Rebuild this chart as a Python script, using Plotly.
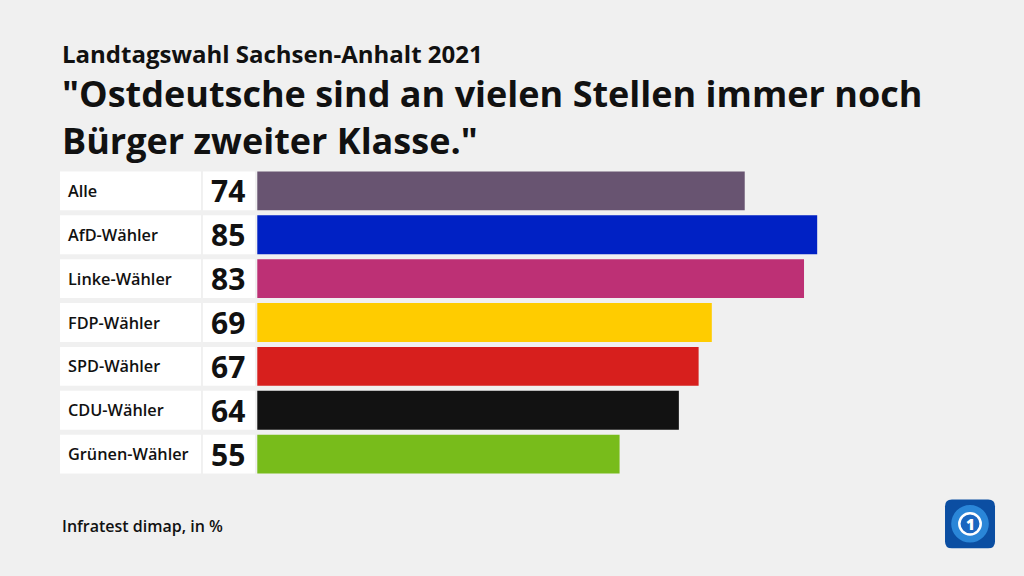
import plotly.graph_objects as go

categories = ["Alle", "AfD-Wähler", "Linke-Wähler", "FDP-Wähler", "SPD-Wähler", "CDU-Wähler", "Grünen-Wähler"]
values = [74, 85, 83, 69, 67, 64, 55]
colors = ["#685471", "#0021c4", "#bd3075", "#ffcc00", "#d71f1d", "#121212", "#78bc1b"]

subtitle = "Landtagswahl Sachsen-Anhalt 2021"
title = "\"Ostdeutsche sind an vielen Stellen immer noch<br>Bürger zweiter Klasse.\""
source = "Infratest dimap, in %"

BG = "#f0f0f0"
FONT = "Open Sans"
X_MIN, X_MAX = -29.95, 100.0
BAR_W = 0.886

fig = go.Figure()

# label boxes
fig.add_trace(go.Bar(
    y=categories, x=[21.4] * len(categories), base=[X_MIN] * len(categories),
    orientation="h", width=BAR_W, marker=dict(color="white", line=dict(width=0)),
    hoverinfo="skip", showlegend=False))
# value boxes
fig.add_trace(go.Bar(
    y=categories, x=[7.9] * len(categories), base=[-8.25] * len(categories),
    orientation="h", width=BAR_W, marker=dict(color="white", line=dict(width=0)),
    hoverinfo="skip", showlegend=False))
# data bars
fig.add_trace(go.Bar(
    y=categories, x=values, orientation="h", width=BAR_W,
    marker=dict(color=colors, line=dict(width=0)),
    showlegend=False))

annotations = []
for c, v in zip(categories, values):
    annotations.append(dict(x=-29.0, y=c, xref="x", yref="y", text=c, showarrow=False,
                            xanchor="left", yanchor="middle",
                            font=dict(family=FONT, size=16.3, color="#111111", weight=600)))
    annotations.append(dict(x=-1.6, y=c, xref="x", yref="y", text=str(v), showarrow=False,
                            xanchor="right", yanchor="middle",
                            font=dict(family=FONT, size=30, color="#111111", weight=700)))

annotations.append(dict(x=0, y=1.3766, xref="paper", yref="paper", text=subtitle, showarrow=False,
                        xanchor="left", yanchor="middle",
                        font=dict(family=FONT, size=24, color="#111111", weight=700)))
annotations.append(dict(x=0, y=1.1688, xref="paper", yref="paper", text=title, showarrow=False,
                        xanchor="left", yanchor="middle", align="left",
                        font=dict(family=FONT, size=36, color="#111111", weight=700)))
annotations.append(dict(x=0, y=-0.164, xref="paper", yref="paper", text=source, showarrow=False,
                        xanchor="left", yanchor="middle",
                        font=dict(family=FONT, size=16, color="#111111", weight=600)))

# logo (ARD tagesschau style)
x0, x1, y0, y1, r = 1.0339, 1.0923, -0.2354, -0.0763, 0.008
ry = r * 856 / 308
logo_path = (f"M {x0+r},{y1} L {x1-r},{y1} Q {x1},{y1} {x1},{y1-ry} L {x1},{y0+ry} "
             f"Q {x1},{y0} {x1-r},{y0} L {x0+r},{y0} Q {x0},{y0} {x0},{y0+ry} "
             f"L {x0},{y1-ry} Q {x0},{y1} {x0+r},{y1} Z")
cx, cy = (x0 + x1) / 2, (y0 + y1) / 2
shapes = [
    dict(type="path", path=logo_path, xref="paper", yref="paper", fillcolor="#0b4ea2", line=dict(width=0)),
    dict(type="circle", xref="paper", yref="paper", x0=cx - 0.022, x1=cx + 0.022,
         y0=cy - 0.022 * 856 / 308, y1=cy + 0.022 * 856 / 308, fillcolor="#2a86d8", line=dict(width=0)),
    dict(type="circle", xref="paper", yref="paper", x0=cx - 0.0125, x1=cx + 0.0125,
         y0=cy - 0.0125 * 856 / 308, y1=cy + 0.0125 * 856 / 308, fillcolor="#1a66c0",
         line=dict(width=2.5, color="white")),
]
annotations.append(dict(x=cx, y=cy, xref="paper", yref="paper", text="1", showarrow=False,
                        xanchor="center", yanchor="middle",
                        font=dict(family=FONT, size=15, color="white", weight=800)))

fig.update_layout(
    width=1024, height=576,
    margin=dict(l=60, r=108, t=168.5, b=99.5),
    paper_bgcolor=BG, plot_bgcolor=BG,
    barmode="overlay",
    xaxis=dict(range=[X_MIN, X_MAX], visible=False, fixedrange=True),
    yaxis=dict(type="category", categoryorder="array", categoryarray=categories,
               range=[6.5, -0.5], visible=False, fixedrange=True),
    annotations=annotations, shapes=shapes,
    showlegend=False,
)

fig.write_html("out.html", config={"displayModeBar": False},
               post_script="document.body.style.margin='0';document.body.style.background='#f0f0f0';")
